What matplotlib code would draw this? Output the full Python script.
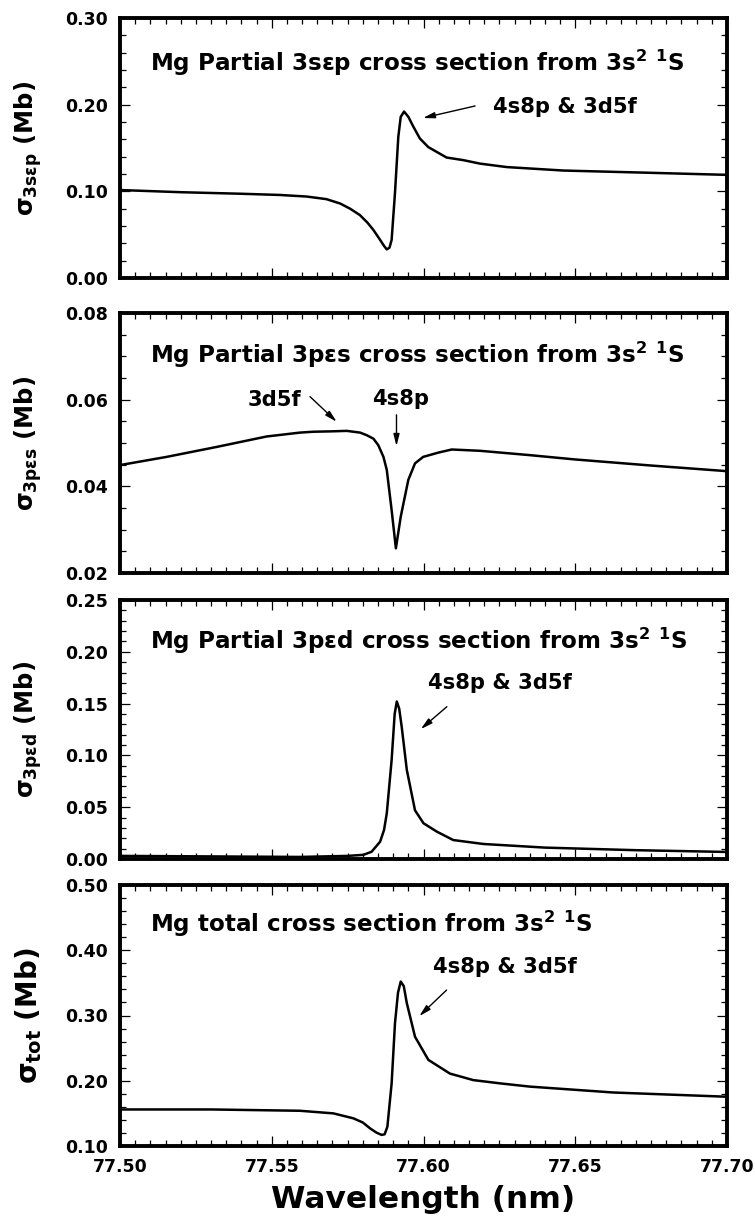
import matplotlib
matplotlib.use("Agg")
import matplotlib.pyplot as plt
from matplotlib.ticker import MultipleLocator, FormatStrFormatter

plt.rcParams['font.family'] = ['DejaVu Sans']
plt.rcParams['font.weight'] = 'bold'
plt.rcParams['mathtext.fontset'] = 'custom'
plt.rcParams['mathtext.rm'] = 'DejaVu Sans:bold'
plt.rcParams['mathtext.it'] = 'DejaVu Sans:bold'
plt.rcParams['mathtext.bf'] = 'DejaVu Sans:bold'
plt.rcParams['mathtext.sf'] = 'DejaVu Sans:bold'

# ---------------- data ----------------
wl1 = [77.500, 77.520, 77.540, 77.5527, 77.5615, 77.5680, 77.5725, 77.5758, 77.5790,
       77.5815, 77.5835, 77.5857, 77.5870, 77.5879, 77.5888, 77.5895, 77.5906, 77.5917,
       77.5925, 77.5936, 77.5950, 77.5966, 77.5988, 77.6016, 77.6076, 77.6131, 77.6186,
       77.6274, 77.6460, 77.6735, 77.7000]
sig_3sep = [0.1015, 0.0990, 0.0972, 0.0958, 0.0940, 0.0910, 0.0860, 0.0800, 0.0727,
            0.0640, 0.0554, 0.0440, 0.0370, 0.0330, 0.0350, 0.0440, 0.0980, 0.1630,
            0.1860, 0.1920, 0.1860, 0.1750, 0.1610, 0.1510, 0.1390, 0.1360, 0.1320,
            0.1280, 0.1240, 0.1215, 0.1190]

wl2 = [77.500, 77.5154, 77.5319, 77.5483, 77.5593, 77.5637, 77.5703, 77.5747, 77.5791,
       77.5813, 77.5835, 77.5851, 77.5868, 77.5879, 77.5895, 77.5909, 77.5925, 77.5950,
       77.5972, 77.5999, 77.6050, 77.6093, 77.6186, 77.6350, 77.6500, 77.6750, 77.7000]
sig_3pes = [0.0449, 0.0468, 0.0491, 0.0515, 0.0524, 0.0526, 0.0527, 0.0528, 0.0524,
            0.0518, 0.0510, 0.0495, 0.0468, 0.0438, 0.0345, 0.0257, 0.0330, 0.0415,
            0.0453, 0.0468, 0.0478, 0.0485, 0.0482, 0.0472, 0.0462, 0.0448, 0.0435]

wl3 = [77.500, 77.530, 77.5593, 77.5750, 77.5802, 77.5829, 77.5857, 77.5870, 77.5879,
       77.5895, 77.5905, 77.5912, 77.5920, 77.5928, 77.5945, 77.5972, 77.6000, 77.6044,
       77.6098, 77.6197, 77.6400, 77.6700, 77.7000]
sig_3ped = [0.0030, 0.0025, 0.0020, 0.0030, 0.0040, 0.0070, 0.0167, 0.0280, 0.0440,
            0.0956, 0.1400, 0.1520, 0.1450, 0.1280, 0.0860, 0.0470, 0.0345, 0.0264,
            0.0183, 0.0145, 0.0110, 0.0085, 0.0068]

wl4 = [77.500, 77.530, 77.5593, 77.5703, 77.5769, 77.5800, 77.5824, 77.5845, 77.5862,
       77.5872, 77.5881, 77.5895, 77.5906, 77.5916, 77.5925, 77.5935, 77.5945, 77.5972,
       77.6016, 77.6087, 77.6164, 77.6252, 77.6351, 77.6625, 77.7000]
sig_tot = [0.156, 0.156, 0.154, 0.150, 0.1424, 0.136, 0.127, 0.1205, 0.117,
           0.118, 0.1296, 0.196, 0.288, 0.335, 0.352, 0.345, 0.319, 0.2675,
           0.232, 0.211, 0.201, 0.196, 0.191, 0.182, 0.1755]

titles = [r"Mg Partial 3sεp cross section from 3s$^{2}$ $^{1}$S",
          r"Mg Partial 3pεs cross section from 3s$^{2}$ $^{1}$S",
          r"Mg Partial 3pεd cross section from 3s$^{2}$ $^{1}$S",
          r"Mg total cross section from 3s$^{2}$ $^{1}$S"]
ylabels = [r"$\sigma_{3sεp}$ (Mb)", r"$\sigma_{3pεs}$ (Mb)",
           r"$\sigma_{3pεd}$ (Mb)", r"$\sigma_{tot}$ (Mb)"]
ylims = [(0.0, 0.30), (0.02, 0.08), (0.0, 0.25), (0.10, 0.50)]
ymajor = [0.10, 0.02, 0.05, 0.10]
yminor = [0.02, 0.005, 0.01, 0.02]
title_y = [0.248, 0.0703, 0.211, 0.440]

W, H = 755, 1222
fig = plt.figure(figsize=(W / 100, H / 100), dpi=100)

# axes boxes in pixels (top, bottom)
boxes = [(18, 278), (313, 573), (600, 859), (885, 1146)]
left_px, right_px = 120, 727

series = [(wl1, sig_3sep), (wl2, sig_3pes), (wl3, sig_3ped), (wl4, sig_tot)]
axes = []
for i, (t, b) in enumerate(boxes):
    ax = fig.add_axes([left_px / W, 1 - b / H, (right_px - left_px) / W, (b - t) / H])
    axes.append(ax)
    x, y = series[i]
    ax.plot(x, y, color='black', lw=1.8)
    ax.set_xlim(77.50, 77.70)
    ax.set_ylim(*ylims[i])
    ax.xaxis.set_major_locator(MultipleLocator(0.05))
    ax.xaxis.set_minor_locator(MultipleLocator(0.005))
    ax.yaxis.set_major_locator(MultipleLocator(ymajor[i]))
    ax.yaxis.set_minor_locator(MultipleLocator(yminor[i]))
    ax.yaxis.set_major_formatter(FormatStrFormatter('%.2f'))
    ax.xaxis.set_major_formatter(FormatStrFormatter('%.2f'))
    ax.tick_params(which='both', direction='in', top=True, right=True, width=0.9)
    ax.tick_params(which='major', length=7)
    ax.tick_params(which='minor', length=4.5)
    ax.tick_params(axis='y', which='major', labelsize=12.5, pad=9)
    ax.tick_params(axis='x', which='major', labelsize=12.5, pad=9)
    for lab in ax.get_yticklabels() + ax.get_xticklabels():
        lab.set_fontweight('bold')
    for sp in ax.spines.values():
        sp.set_linewidth(2.8)
    if i < 3:
        ax.tick_params(axis='x', labelbottom=False)
    fs = 20 if i == 3 else 17.5
    ax.set_ylabel(ylabels[i], fontsize=fs, fontweight='bold')
    ax.yaxis.set_label_coords(-0.126, 0.5)
    ax.text(77.5099, title_y[i], titles[i], fontsize=16.6, fontweight='bold',
            va='center', ha='left')

arrow_kw = dict(arrowstyle='-|>,head_length=0.7,head_width=0.18', color='black', lw=1.0,
                shrinkA=0, shrinkB=0)
lab_fs = 15.2

# panel 1
ax = axes[0]
ax.text(77.623, 0.197, "4s8p & 3d5f", fontsize=lab_fs, fontweight='bold', va='center', ha='left')
ax.annotate('', xy=(77.5998, 0.1846), xytext=(77.617, 0.1985), arrowprops=arrow_kw)

# panel 2
ax = axes[1]
ax.text(77.551, 0.0599, "3d5f", fontsize=lab_fs, fontweight='bold', va='center', ha='center')
ax.annotate('', xy=(77.5714, 0.0549), xytext=(77.5626, 0.0607), arrowprops=arrow_kw)
ax.text(77.5926, 0.0602, "4s8p", fontsize=lab_fs, fontweight='bold', va='center', ha='center')
ax.annotate('', xy=(77.5911, 0.0493), xytext=(77.5911, 0.0565), arrowprops=arrow_kw)

# panel 3
ax = axes[2]
ax.text(77.6015, 0.170, "4s8p & 3d5f", fontsize=lab_fs, fontweight='bold', va='center', ha='left')
ax.annotate('', xy=(77.5991, 0.1254), xytext=(77.6077, 0.147), arrowprops=arrow_kw)

# panel 4
ax = axes[3]
ax.text(77.6031, 0.374, "4s8p & 3d5f", fontsize=lab_fs, fontweight='bold', va='center', ha='left')
ax.annotate('', xy=(77.5986, 0.299), xytext=(77.6076, 0.339), arrowprops=arrow_kw)

fig.text(423 / W, 1 - 1200 / H, "Wavelength (nm)", fontsize=22.5, fontweight='bold',
         ha='center', va='center')

fig.savefig("out.png", dpi=100)
